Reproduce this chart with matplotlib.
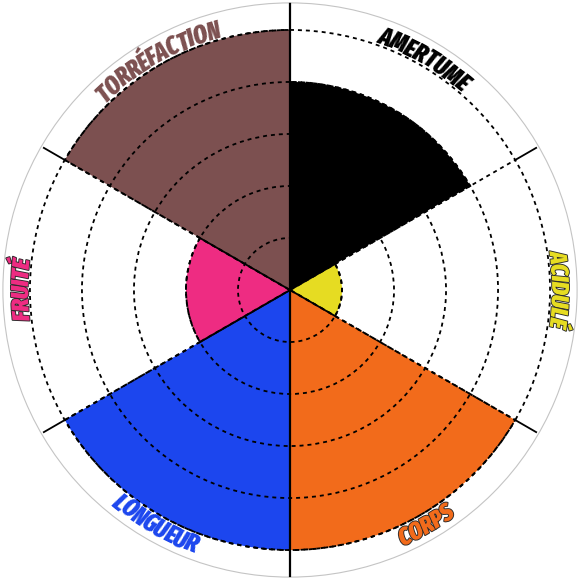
import matplotlib
matplotlib.use("Agg")
import matplotlib.pyplot as plt
import matplotlib.patheffects as pe
from matplotlib import font_manager
from matplotlib.font_manager import FontProperties
from matplotlib.textpath import text_to_path
import numpy as np

# flavour profile data
categories = ['AMERTUME', 'ACIDULÉ', 'CORPS', 'LONGUEUR', 'FRUITÉ', 'TORRÉFACTION']
values = [4, 1, 5, 5, 2, 5]
colors = ['#000000', '#e6dc22', '#f26b1b', '#1c46ee', '#ee2c82', '#7c5050']
label_colors = ['#000000', '#e6dc22', '#f26b1b', '#1c46ee', '#ee2c82', '#7c5050']
outlined = [False, True, True, False, True, False]
rings = [1, 2, 3, 4, 5]
r_max = 5.52

# look for a narrow / condensed bold face, otherwise use Roboto
narrow = []
for f in font_manager.fontManager.ttflist:
    if not f.fname.lower().endswith(('.ttf', '.otf')):
        continue
    nm = f.name.lower() + ' ' + f.fname.lower()
    is_narrow = ('narrow' in nm or 'condensed' in nm
                 or f.stretch in ('condensed', 'semi-condensed', 'extra-condensed'))
    if is_narrow and f.weight in ('bold', 700, 800, 900, 'heavy', 'black', 'extra bold'):
        narrow.append(f)


def pref(f):
    fn = f.fname.lower()
    return ('extracondensed' not in fn and 'extra-condensed' not in fn
            and f.stretch != 'extra-condensed',
            'italic' not in fn and 'oblique' not in fn,
            'semi' in fn)


narrow.sort(key=pref)
if narrow:
    fp = FontProperties(fname=narrow[0].fname, size=10)
    extra = -0.3
else:
    fp = FontProperties(family='Roboto', weight='bold', style='italic', size=10)
    extra = -0.6

# size the lettering so that AMERTUME spans about 105 px
w10, _, _ = text_to_path.get_text_width_height_descent('AMERTUME', fp, ismath=False)
fp.set_size(min(17.5, 10 * 106 / (w10 * 100 / 72)))

n = len(categories)
step = 360 / n
angles = np.arange(n) * step + step / 2  # compass angles of sector centres

fig = plt.figure(figsize=(5.8, 5.8), dpi=100)
ax = fig.add_axes([0.005, 0.005, 0.99, 0.99], projection='polar')
ax.set_theta_zero_location('N')
ax.set_theta_direction(-1)
ax.set_ylim(0, r_max)

dash = (0, (2.2, 2.2))
ax.bar(np.radians(angles), values, width=np.radians(step), color=colors,
       edgecolor='black', linewidth=1.4, linestyle=dash, zorder=2)

# rings
ax.set_xticks([])
ax.set_yticks(rings)
ax.set_yticklabels([])
ax.yaxis.grid(True, color='black', linestyle=dash, linewidth=1.3)
ax.set_axisbelow(False)
for gl in ax.yaxis.get_gridlines():
    gl.set_zorder(3)
ax.spines['polar'].set_color('#c4c4c4')
ax.spines['polar'].set_linewidth(0.8)

# spokes between sectors
for i in range(n):
    b = i * step
    th = np.radians(b)
    inner = min(values[i], values[i - 1])
    ax.plot([th, th], [0, inner], color='black', lw=1.3, zorder=4)
    if inner < rings[-1]:
        ax.plot([th, th], [inner, rings[-1]], color='black', lw=1.3,
                linestyle=dash, zorder=4)
    ax.plot([th, th], [rings[-1], r_max * 0.99], color='black', lw=1.3, zorder=4)
# vertical axis line
ax.plot([0, 0], [0, r_max], color='black', lw=1.6, zorder=4)
ax.plot([np.pi, np.pi], [0, r_max], color='black', lw=1.6, zorder=4)

# pixels per data unit
p0 = ax.transData.transform((0, 0))
p1 = ax.transData.transform((0, 5))
unit = np.hypot(*(p1 - p0)) / 5


def curved_label(text, phi_c, color, outline):
    top = not (90 < phi_c < 270)
    r = 5.04 if top else 5.38
    direction = 1 if top else -1
    widths = []
    for ch in text:
        w, h, d = text_to_path.get_text_width_height_descent(ch, fp, ismath=False)
        widths.append(w * fig.dpi / 72 + extra)
    total = sum(widths)
    r_px = r * unit
    pos = 0
    effects = [pe.withStroke(linewidth=1.3, foreground='#2a2a2a')] if outline else None
    for ch, w in zip(text, widths):
        mid = pos + w / 2 - total / 2
        phi = phi_c + direction * np.degrees(mid / r_px)
        rot = -phi if top else 180 - phi
        ax.text(np.radians(phi), r, ch, fontproperties=fp, color=color,
                rotation=rot, rotation_mode='anchor', ha='center', va='baseline',
                path_effects=effects, zorder=5)
        pos += w


for cat, a, c, o in zip(categories, angles, label_colors, outlined):
    curved_label(cat, a, c, o)

fig.savefig('out.png', dpi=100, facecolor='white')
